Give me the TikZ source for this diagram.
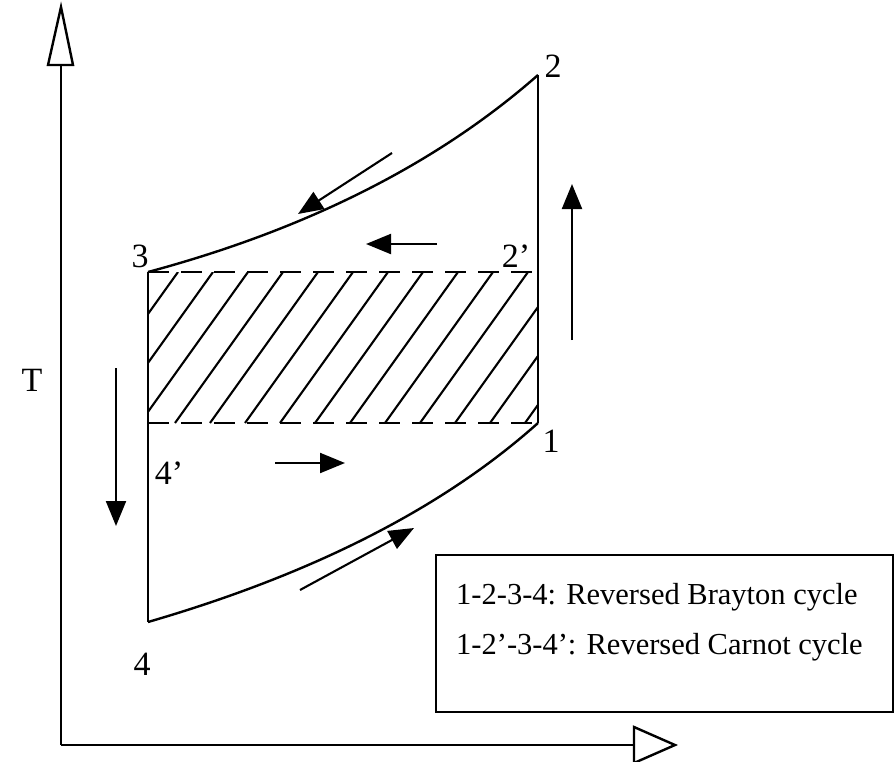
\documentclass[tikz,border=0pt]{standalone}
\usepackage{fontspec}
\setmainfont{Liberation Serif}
\usetikzlibrary{arrows.meta}
\begin{document}
\begin{tikzpicture}[x=1pt,y=-1pt,
  curve/.style={line width=2.4pt},
  dashline/.style={line width=2.4pt,dash pattern=on 21pt off 12pt},
  hatchline/.style={line width=2.1pt},
  flow/.style={line width=2.1pt,-{Triangle[length=25pt,width=20pt]}},
  lbl/.style={font=\fontsize{34}{36}\selectfont,inner sep=0pt},
  legtext/.style={font=\fontsize{30.5}{32}\selectfont,inner sep=0pt},
  axishead/.style={line width=2.4pt,fill=white}]
\useasboundingbox (0,0) rectangle (896,761);
% points
\coordinate (p1) at (538,423);
\coordinate (p2) at (538,75);
\coordinate (p3) at (148,272);
\coordinate (p4) at (148,622);
\coordinate (p2p) at (538,272);
\coordinate (p4p) at (148,423);
\coordinate (o) at (61,745);
\coordinate (ytip) at (61,7);
\coordinate (xtip) at (675,745);
% axes
\draw[line width=2.4pt] (o) -- (ytip);
\draw[line width=2.4pt] (o) -- (xtip);
\draw[axishead] (ytip) -- (48,65) -- (73,65) -- cycle;
\draw[axishead] (xtip) -- (634,727) -- (634,763) -- cycle;
% hatching
\begin{scope}
\clip (p3) rectangle (p1);
\foreach \k in {0,...,13}{
  \draw[hatchline] ({70+35*\k},423) -- ({178+35*\k},272);
}
\end{scope}
% cycle
\draw[curve] (p3) .. controls (308,229) and (438,163) .. (p2);
\draw[curve] (p4) .. controls (313,574) and (443,508) .. (p1);
\draw[curve] (p1) -- (p2);
\draw[curve] (p3) -- (p4);
\draw[dashline] (p3) -- (p2p);
\draw[dashline] (p4p) -- (p1);
% flow arrows
\coordinate (a1s) at (392,153); \coordinate (a1e) at (298,214);
\coordinate (a2s) at (437,244); \coordinate (a2e) at (366,244);
\coordinate (a3s) at (275,463); \coordinate (a3e) at (345,463);
\coordinate (a4s) at (300,590); \coordinate (a4e) at (414,528);
\coordinate (a5s) at (572,340); \coordinate (a5e) at (572,184);
\coordinate (a6s) at (116,368); \coordinate (a6e) at (116,526);
\draw[flow] (a1s) -- (a1e);
\draw[flow] (a2s) -- (a2e);
\draw[flow] (a3s) -- (a3e);
\draw[flow] (a4s) -- (a4e);
\draw[flow] (a5s) -- (a5e);
\draw[flow] (a6s) -- (a6e);
% labels
\node[lbl] (l2) at (553,66) {2};
\node[lbl] (l3) at (140,256) {3};
\node[lbl] (l2p) at (516,256) {2’};
\node[lbl] (l1) at (551,441) {1};
\node[lbl] (l4p) at (169,473) {4’};
\node[lbl] (l4) at (142,664) {4};
\node[lbl] (lT) at (32,380) {T};
% legend
\node[draw,line width=2pt,minimum width=457pt,minimum height=157pt,inner sep=0pt] (legend) at (664.5,633.5) {};
\node[legtext,anchor=west] (leg1) at (456,597) {1-2-3-4: Reversed Brayton cycle};
\node[legtext,anchor=west] (leg2) at (456,647) {1-2’-3-4’: Reversed Carnot cycle};
\end{tikzpicture}
\end{document}
